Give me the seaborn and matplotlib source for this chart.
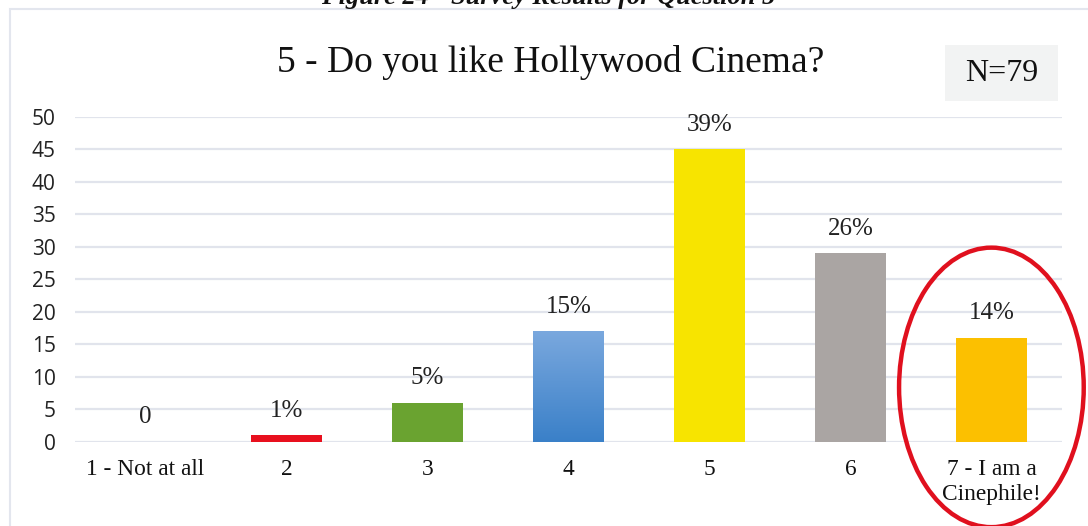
import numpy as np
import pandas as pd
import matplotlib
matplotlib.use("Agg")
import matplotlib.pyplot as plt
from matplotlib.patches import Ellipse, Rectangle
from matplotlib.colors import LinearSegmentedColormap
import seaborn as sns

# Survey question 5 responses
categories = ["1 - Not at all", "2", "3", "4", "5", "6", "7 - I am a\nCinephile!"]
counts = [0, 1, 6, 17, 45, 29, 16]
pct_labels = ["0", "1%", "5%", "15%", "39%", "26%", "14%"]
bar_colors = ["#9e9e9e", "#e8101e", "#6aa330", "#5b96d6", "#f7e400", "#aaa5a3", "#fcc000"]
y_ticks = [0, 5, 10, 15, 20, 25, 30, 35, 40, 45, 50]

df = pd.DataFrame({"answer": categories, "count": counts})

sns.set_theme(style="white")
serif = "Liberation Serif"

fig = plt.figure(figsize=(10.88, 5.26), dpi=100)
ax = fig.add_axes([0.069, 0.1597, 0.907, 0.6179])

sns.barplot(data=df, x="answer", y="count", hue="answer", palette=bar_colors,
            width=0.5, legend=False, ax=ax, saturation=1, linewidth=0)

ax.set_ylim(0, 50)
ax.set_xlim(-0.5, 6.5)
ax.set_yticks(y_ticks)
ax.set_yticklabels([str(t) for t in y_ticks], fontsize=15, family="Open Sans", color="#222222")
ax.tick_params(axis="y", length=0, pad=14)
ax.tick_params(axis="x", length=0, pad=12)
for lbl in ax.get_xticklabels():
    lbl.set_fontfamily(serif)
    lbl.set_fontsize(16.8)
    lbl.set_color("#111111")
    lbl.set_linespacing(1.3)
ax.set_xlabel("")
ax.set_ylabel("")
for s in ax.spines.values():
    s.set_visible(False)
ax.yaxis.grid(True, color="#e1e4ec", linewidth=1.6)
ax.set_axisbelow(True)

# gradient fill on the "4" bar
bars = ax.patches
blue = bars[3]
x0, w, h = blue.get_x(), blue.get_width(), blue.get_height()
grad = np.linspace(0, 1, 256).reshape(-1, 1)
cmap = LinearSegmentedColormap.from_list("bg", ["#3a80c8", "#7aa8de"])
im = ax.imshow(grad, cmap=cmap, aspect="auto", extent=[x0, x0 + w, 0, h],
               origin="lower", zorder=blue.get_zorder() + 0.1)
im.set_clip_path(blue)

# value labels above bars
for bar, lab in zip(bars, pct_labels):
    cx = bar.get_x() + bar.get_width() / 2
    ax.annotate(lab, (cx, bar.get_height()), xytext=(0, 10), textcoords="offset points",
                ha="center", va="bottom", fontsize=18, family=serif, color="#222222",
                annotation_clip=False)

# highlight ring around the last category
ring = Ellipse((6, 8.4), width=1.31, height=43, fill=False, edgecolor="#e0101e",
               linewidth=3.2, clip_on=False, zorder=5)
ax.add_patch(ring)

# chart frame
fig.patches.append(Rectangle((10 / 1088, -0.1), 1.2, 1 - 9 / 526 + 0.1,
                             transform=fig.transFigure, fill=False,
                             edgecolor="#e3e6ee", linewidth=1.5))

# sample-size box
fig.patches.append(Rectangle((945 / 1088, 1 - 101 / 526), 113 / 1088, 56 / 526,
                             transform=fig.transFigure, facecolor="#f2f3f3",
                             edgecolor="none"))
fig.text((945 + 1058) / 2 / 1088, 1 - 73.5 / 526, "N=79", ha="center", va="center",
         fontsize=23, family=serif, color="#111111")

fig.text(551 / 1088, 1 - 62 / 526, "5 - Do you like Hollywood Cinema?", ha="center",
         va="center", fontsize=27, family=serif, color="#111111")

fig.text(548 / 1088, 1 - 4 / 526, "Figure 24 - Survey Results for Question 5", ha="center",
         va="baseline", fontsize=19, family=serif, fontweight="bold", fontstyle="italic",
         color="#111111")

fig.savefig("out.png", dpi=100)
